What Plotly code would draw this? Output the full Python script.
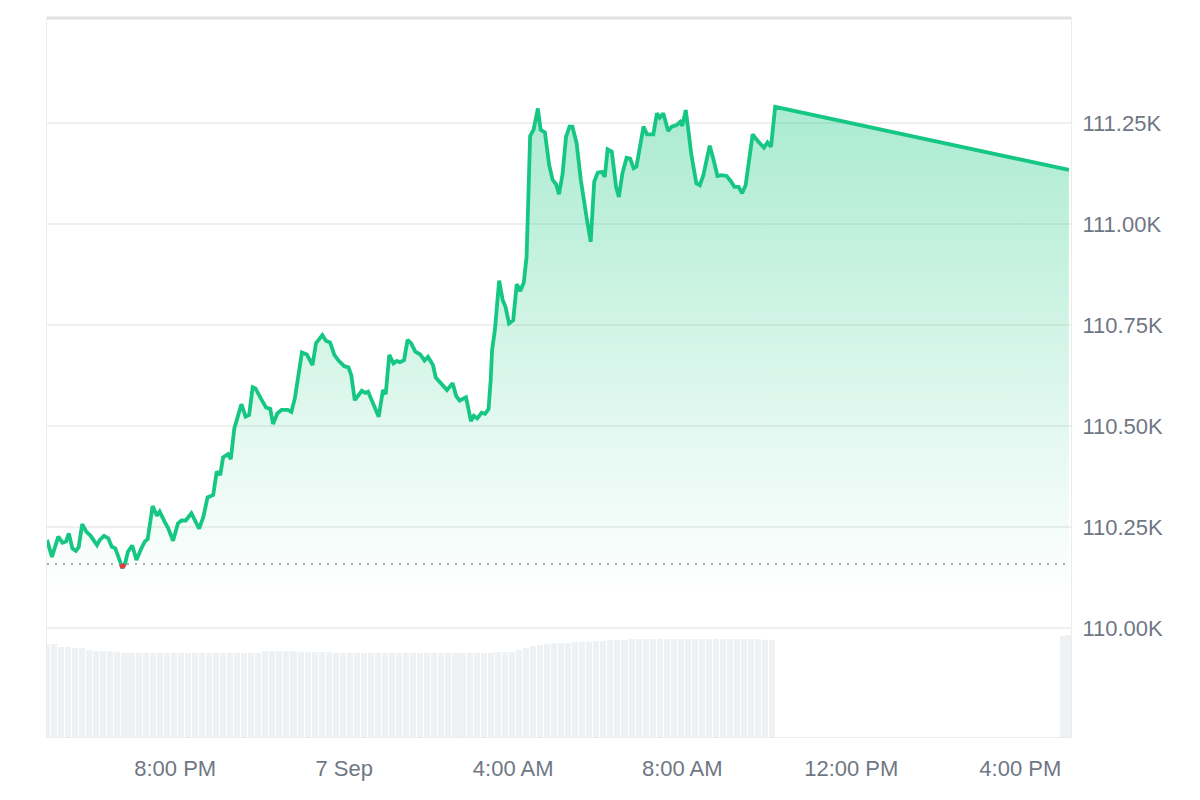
import datetime as dt
import plotly.graph_objects as go

# ---------------- data ----------------
start_time = dt.datetime(2025, 9, 6, 16, 58)

price_minutes = [0,7,16,22,27,31,36,41,45,50,
    56,62,71,75,81,87,92,97,102,107,
    111,115,121,127,134,139,143,150,156,160,
    167,172,179,186,191,197,205,211,216,222,
    228,236,241,246,250,257,261,266,272,276,
    282,287,292,296,305,311,317,321,327,333,
    342,347,352,362,369,377,382,386,391,396,
    402,408,414,422,428,432,437,447,452,456,
    465,471,477,481,486,492,497,501,507,512,
    517,523,530,536,541,548,552,559,568,576,
    581,586,595,602,606,611,617,622,627,630,
    632,636,642,647,651,656,662,667,672,677,
    681,686,691,697,701,707,713,718,723,727,
    732,737,742,746,752,758,763,766,772,777,
    782,788,792,796,802,808,812,817,823,828,
    833,837,847,852,861,866,870,875,882,887,
    894,899,902,907,911,915,922,927,932,941,
    946,952,958,965,971,976,982,987,992,996,
    1002,1008,1012,1018,1023,1028,1034,1451]

prices = [110218,110176,110226,110211,110214,110234,110197,110191,110200,110257,
    110238,110228,110205,110218,110228,110222,110201,110197,110173,110148,
    110160,110189,110204,110168,110197,110214,110220,110302,110278,110288,
    110263,110247,110216,110259,110266,110266,110284,110261,110246,110275,
    110323,110329,110387,110379,110422,110430,110418,110494,110527,110554,
    110523,110527,110596,110593,110564,110546,110542,110505,110531,110540,
    110540,110535,110569,110682,110677,110651,110705,110713,110725,110711,
    110707,110676,110662,110648,110645,110626,110564,110587,110582,110585,
    110544,110523,110589,110579,110676,110655,110661,110658,110663,110713,
    110705,110684,110677,110662,110671,110651,110620,110607,110589,110606,
    110574,110563,110571,110512,110525,110519,110533,110530,110542,110614,
    110688,110738,110860,110812,110795,110754,110762,110851,110834,110855,
    110919,111218,111234,111286,111233,111227,111146,111109,111098,111074,
    111123,111216,111241,111241,111200,111109,111043,111018,110956,111105,
    111127,111129,111117,111185,111179,111092,111067,111125,111164,111162,
    111138,111142,111241,111222,111222,111274,111263,111274,111230,111241,
    111245,111253,111243,111282,111228,111171,111101,111096,111121,111194,
    111162,111119,111121,111119,111106,111092,111092,111076,111096,111142,
    111222,111208,111201,111189,111202,111191,111290,111134]

baseline_price = 110158

# volume (USD billions), 10-minute bars, then the latest bars
volume_minutes = list(range(0, 1040, 10)) + [1443, 1450]
volumes_bn = [28.6,28.4,27.6,27.5,27.2,27.1,
    26.6,26.4,26.3,26.2,26.0,25.8,
    25.7,25.6,25.7,25.7,25.8,25.7,25.6,25.6,25.7,25.7,25.6,25.7,25.7,25.6,25.6,25.7,25.8,25.7,25.7,
    26.3,26.4,26.4,26.3,26.2,
    26.0,25.9,26.0,26.0,25.9,25.8,
    25.7,25.7,25.6,25.7,25.7,25.6,25.6,25.7,25.7,25.6,25.7,25.7,25.6,25.6,25.7,25.7,25.6,25.7,25.8,25.7,25.8,25.8,25.9,25.9,26.0,
    26.6,27.2,27.8,28.2,
    28.5,28.7,28.8,28.9,29.0,29.1,29.2,29.4,29.5,
    29.7,29.8,29.8,29.9,29.9,30.0,29.9,30.0,30.0,29.9,30.0,30.0,30.0,29.9,30.0,30.0,29.9,29.9,30.0,30.0,29.9,29.9,29.8,29.8,
    31.0,31.2]

tick_minutes = [182, 422, 662, 902, 1142, 1382]
tick_labels = ["8:00 PM", "7 Sep", "4:00 AM", "8:00 AM", "12:00 PM", "4:00 PM"]
price_ticks = [110000, 110250, 110500, 110750, 111000, 111250]
price_tick_labels = ["110.00K", "110.25K", "110.50K", "110.75K", "111.00K", "111.25K"]

# ---------------- helpers ----------------
def at(m):
    return start_time + dt.timedelta(minutes=m)

times = [at(m) for m in price_minutes]

# red segments where price is below the baseline
red_x, red_y = [], []
for i in range(len(prices) - 1):
    m0, m1 = price_minutes[i], price_minutes[i + 1]
    p0, p1 = prices[i], prices[i + 1]
    if p0 >= baseline_price and p1 >= baseline_price:
        continue
    a0, b0 = m0, p0
    a1, b1 = m1, p1
    if p0 > baseline_price:
        f = (p0 - baseline_price) / (p0 - p1)
        a0, b0 = m0 + f * (m1 - m0), baseline_price
    if p1 > baseline_price:
        f = (baseline_price - p0) / (p1 - p0)
        a1, b1 = m0 + f * (m1 - m0), baseline_price
    red_x += [at(a0), at(a1), None]
    red_y += [b0, b1, None]

GREEN = "#16c784"
x_start = at(0)
x_end = at(1454)

fig = go.Figure()

fig.add_trace(go.Bar(
    x=[at(m) for m in volume_minutes],
    y=[v * 1e9 for v in volumes_bn],
    width=[8.6 * 60 * 1000] * len(volume_minutes),
    marker=dict(color="#eff2f5", line=dict(width=0)),
    yaxis="y2",
    hoverinfo="skip",
    showlegend=False,
))

fig.add_trace(go.Scatter(
    x=times, y=prices,
    mode="lines",
    line=dict(color=GREEN, width=3.8),
    fill="tozeroy",
    fillgradient=dict(
        type="vertical",
        start=110080, stop=111290,
        colorscale=[[0, "rgba(22,199,132,0)"],
                    [0.45, "rgba(22,199,132,0.16)"],
                    [1, "rgba(22,199,132,0.36)"]],
    ),
    showlegend=False,
))

fig.add_trace(go.Scatter(
    x=[x_start, x_end], y=[baseline_price, baseline_price],
    mode="lines",
    line=dict(color="#8c929b", width=1.5, dash="2px,6px"),
    hoverinfo="skip", showlegend=False,
))

fig.add_trace(go.Scatter(
    x=red_x, y=red_y, mode="lines",
    line=dict(color="#ea3943", width=3.8),
    hoverinfo="skip", showlegend=False,
))

fig.update_layout(
    width=1200, height=800,
    margin=dict(l=47, r=129, t=18, b=63),
    paper_bgcolor="white", plot_bgcolor="white",
    font=dict(family="Liberation Sans, Arial, sans-serif", size=22, color="#6f7785"),
    bargap=0,
    xaxis=dict(
        range=[x_start, x_end],
        tickmode="array",
        tickvals=[at(m) for m in tick_minutes],
        ticktext=tick_labels,
        showgrid=False, zeroline=False,
        showline=True, mirror=True, linecolor="#ececec", linewidth=1,
        ticks="", ticklabelstandoff=12,
    ),
    yaxis=dict(
        side="right",
        range=[109730, 111510],
        tickmode="array",
        tickvals=price_ticks,
        ticktext=price_tick_labels,
        showgrid=True, gridcolor="#efefef", gridwidth=1.5,
        zeroline=False,
        showline=True, mirror=True, linecolor="#ececec", linewidth=1,
        ticks="", ticklabelstandoff=6,
    ),
    yaxis2=dict(
        overlaying="y", range=[0, 220e9], visible=False,
    ),
    shapes=[dict(type="line", xref="paper", yref="paper", x0=0, x1=1, y0=1, y1=1,
                 line=dict(color="#e2e2e2", width=3))],
)

fig.write_html("out.html", config={"displayModeBar": False},
               post_script="document.body.style.margin='0';")
